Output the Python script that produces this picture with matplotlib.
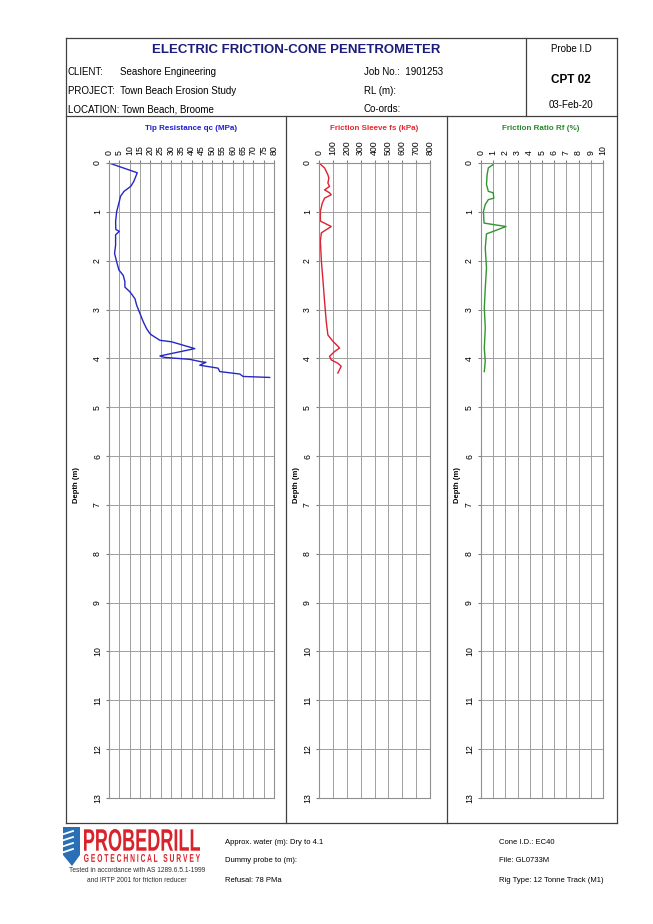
import matplotlib
matplotlib.use('Agg')
import matplotlib.pyplot as plt
from matplotlib.patches import Polygon, PathPatch
from matplotlib.textpath import TextPath
from matplotlib.font_manager import FontProperties
from matplotlib.transforms import Affine2D
import numpy as np

# tip resistance qc (MPa) vs depth (m)
qc_depth = [0, 0.2, 0.38, 0.48, 0.58, 0.68, 0.82, 1.0, 1.2, 1.36, 1.4, 1.47, 1.68, 1.85, 2.02,
            2.19, 2.3, 2.43, 2.54, 2.64, 2.78, 2.91, 3.08, 3.25, 3.39, 3.49, 3.52, 3.63, 3.66,
            3.8, 3.95, 3.98, 4.02, 4.07, 4.08, 4.14, 4.2, 4.27, 4.32, 4.37, 4.39]
qc = [0, 13.7, 12, 10.5, 7.3, 5.6, 4.8, 3.7, 3.2, 3.3, 5.0, 3.2, 3.2, 2.7, 3.7,
      4.8, 6.9, 7.7, 7.7, 10.2, 12.6, 13.4, 15, 16.6, 18.2, 19.8, 20.6, 24.7, 30.3,
      41.6, 24.7, 27, 39.2, 44.8, 47, 44, 52.9, 53.7, 63.4, 65, 77.9]

# friction sleeve fs (kPa)
fs_depth = [0, 0.1, 0.24, 0.31, 0.41, 0.48, 0.55, 0.61, 0.65, 0.72, 0.82, 0.99, 1.19, 1.3,
            1.43, 1.6, 2.0, 2.42, 2.83, 3.24, 3.52, 3.65, 3.75, 3.79, 3.86, 3.96, 4.03, 4.1,
            4.16, 4.3]
fs = [0, 40, 64, 71, 64, 76, 40, 76, 88, 40, 24, 10, 10, 88,
      17, 10, 17, 29, 40, 52, 64, 100, 136, 148, 112, 76, 88, 136,
      160, 136]

# friction ratio Rf (%)
rf_depth = [0.03, 0.1, 0.24, 0.44, 0.58, 0.61, 0.72, 0.75, 0.85, 0.99, 1.23, 1.26, 1.3, 1.4,
            1.45, 1.74, 2.15, 2.56, 2.97, 3.38, 3.79, 4.06, 4.27]
rf = [1.0, 0.6, 0.5, 0.45, 0.6, 1.0, 1.05, 0.6, 0.35, 0.2, 0.25, 1.0, 2.05, 1.0,
      0.45, 0.35, 0.45, 0.35, 0.27, 0.35, 0.27, 0.35, 0.27]

W, H = 653, 924
fig = plt.figure(figsize=(W / 100, H / 100), dpi=100)
plt.rcParams['font.family'] = ['Liberation Sans', 'DejaVu Sans']


def fx(x):
    return x / W


def fy(y):
    return 1 - y / H


def box(x0, y0, x1, y1):
    return [fx(x0), fy(y1), fx(x1) - fx(x0), fy(y0) - fy(y1)]


def hline(y, x0, x1, c='#404040', lw=0.9):
    fig.add_artist(plt.Line2D([fx(x0), fx(x1)], [fy(y), fy(y)], color=c, lw=lw))


def vline(x, y0, y1, c='#404040', lw=0.9):
    fig.add_artist(plt.Line2D([fx(x), fx(x)], [fy(y0), fy(y1)], color=c, lw=lw))


def fit_text(s, x0, y0, x1, y1, color):
    # text squeezed into a pixel box (top-left origin)
    tp = TextPath((0, 0), s, size=10, prop=FontProperties(family='Liberation Sans', weight='bold'))
    ext = tp.get_extents()
    sx = (x1 - x0) / ext.width
    sy = (y1 - y0) / ext.height
    tr = Affine2D().translate(-ext.x0, -ext.y0).scale(sx, sy).translate(x0, H - y1)
    fig.add_artist(PathPatch(tr.transform_path(tp), facecolor=color, edgecolor='none',
                             transform=None))


# frame
hline(38, 66, 617)
hline(116, 66, 617)
hline(823, 66, 617)
vline(66, 38, 823)
vline(617, 38, 823)
vline(526, 38, 116)
vline(286, 116, 823)
vline(447, 116, 823)

# header text
fig.text(fx(296), fy(50), 'ELECTRIC FRICTION-CONE PENETROMETER', ha='center', va='center',
         fontsize=9.5, fontweight='bold', color='#1c1c7a')
hdr = 7
fig.text(fx(68), fy(72), 'CLIENT:', fontsize=hdr, va='center')
fig.text(fx(120), fy(72), 'Seashore Engineering', fontsize=hdr, va='center')
fig.text(fx(68), fy(91), 'PROJECT:  Town Beach Erosion Study', fontsize=hdr, va='center')
fig.text(fx(68), fy(109), 'LOCATION: Town Beach, Broome', fontsize=hdr, va='center')
fig.text(fx(364), fy(72), 'Job No.:  1901253', fontsize=hdr, va='center')
fig.text(fx(364), fy(91), 'RL (m):', fontsize=hdr, va='center')
fig.text(fx(364), fy(109), 'Co-ords:', fontsize=hdr, va='center')
fig.text(fx(571), fy(49), 'Probe I.D', fontsize=hdr, ha='center', va='center')
fig.text(fx(571), fy(80), 'CPT 02', fontsize=8.5, fontweight='bold', ha='center', va='center')
fig.text(fx(571), fy(105), '03-Feb-20', fontsize=hdr, ha='center', va='center')

panels = [
    (109, 274, qc, qc_depth, 80, 5, '#2626c8', '#2020cc', 'Tip Resistance qc (MPa)', 191, 77),
    (319, 430, fs, fs_depth, 800, 100, '#e02030', '#e8282e', 'Friction Sleeve fs (kPa)', 374, 296),
    (481, 603, rf, rf_depth, 10, 1, '#2f962f', '#2a8a2a', 'Friction Ratio Rf (%)', 541, 457),
]

for x0, x1, vals, dep, xmax, step, lc, tc, title, tx, dx in panels:
    ax = fig.add_axes(box(x0, 163, x1, 798))
    ax.plot(vals, dep, color=lc, lw=1.0)
    ax.set_xlim(0, xmax)
    ax.set_ylim(13, 0)
    ax.set_xticks(np.arange(0, xmax + step / 2, step))
    ax.set_yticks(np.arange(0, 14, 1))
    ax.xaxis.tick_top()
    ax.tick_params(axis='x', labelrotation=90, labelsize=6.3, length=2, pad=4, color='#808080')
    ax.tick_params(axis='y', labelrotation=90, labelsize=6.3, length=2, pad=3, color='#808080')
    for lab in ax.get_yticklabels():
        lab.set_va('center')
    ax.grid(True, color='#a0a0a0', lw=0.7)
    for s in ax.spines.values():
        s.set_color('#909090')
        s.set_linewidth(0.8)
    fig.text(fx(tx), fy(128), title, ha='center', va='center', fontsize=5.8,
             fontweight='bold', color=tc)
    fig.text(fx(dx), fy(485), 'Depth (m)', rotation=90, ha='center', va='center',
             fontsize=5.5, fontweight='bold')

# footer logo
icon = Polygon([[fx(63), fy(827)], [fx(80), fy(827)], [fx(80), fy(855)], [fx(72), fy(866)],
                [fx(63), fy(855)]], closed=True, transform=fig.transFigure,
               facecolor='#2a6fb5', edgecolor='none')
fig.add_artist(icon)
for k in range(4):
    fig.add_artist(plt.Line2D([fx(61), fx(73)], [fy(835 + 6 * k), fy(831 + 6 * k)],
                              color='white', lw=1.3))
fit_text('PROBEDRILL', 84, 829, 200, 851, '#d9222a')
fit_text('G E O T E C H N I C A L   S U R V E Y', 84, 854, 200, 862, '#d9222a')
fig.text(fx(137), fy(871), 'Tested in accordance with AS 1289.6.5.1-1999', ha='center',
         va='center', fontsize=4.8, color='#303030')
fig.text(fx(137), fy(880), 'and IRTP 2001 for friction reducer', ha='center', va='center',
         fontsize=4.8, color='#303030')

ft = 5.5
fig.text(fx(225), fy(842), 'Approx. water (m): Dry to 4.1', fontsize=ft, va='center')
fig.text(fx(225), fy(861), 'Dummy probe to (m):', fontsize=ft, va='center')
fig.text(fx(225), fy(880), 'Refusal: 78 PMa', fontsize=ft, va='center')
fig.text(fx(499), fy(842), 'Cone I.D.: EC40', fontsize=ft, va='center')
fig.text(fx(499), fy(861), 'File: GL0733M', fontsize=ft, va='center')
fig.text(fx(499), fy(880), 'Rig Type: 12 Tonne Track (M1)', fontsize=ft, va='center')

fig.savefig('out.png', dpi=100)
